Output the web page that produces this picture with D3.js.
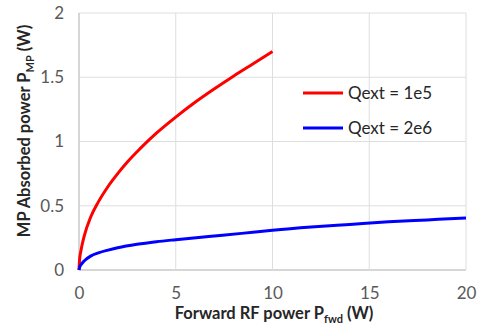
<!DOCTYPE html>
<html>
<head>
<meta charset="utf-8">
<script src="https://cdn.jsdelivr.net/npm/d3@7"></script>
<style>
  body { margin: 0; background: #fff; }
  text { font-family: Lato, "Open Sans", sans-serif; }
</style>
</head>
<body>
<div id="chart"></div>
<script>
// values
var redX = [0, 0.03, 0.1, 0.28, 0.6, 1, 1.5, 2, 2.5, 3, 3.5, 4, 5, 6, 7, 8, 9, 10];
var redY = [0, 0.08, 0.15, 0.27, 0.41, 0.53, 0.65, 0.75, 0.84, 0.92, 0.995, 1.065, 1.19, 1.305, 1.41, 1.51, 1.605, 1.70];

var blueX = [0, 0.03, 0.1, 0.28, 0.6, 1, 1.5, 2, 3, 4, 5, 6.7, 8.4, 10, 12, 14, 16, 18, 20];
var blueY = [0, 0.02, 0.04, 0.072, 0.108, 0.133, 0.155, 0.173, 0.20, 0.22, 0.236, 0.261, 0.285, 0.31, 0.335, 0.355, 0.375, 0.39, 0.405];

var xTicks = [0, 5, 10, 15, 20];
var yTicks = [0, 0.5, 1, 1.5, 2];
var seriesNames = ["Qext = 1e5", "Qext = 2e6"];
var seriesColors = ["#ff0000", "#0000ff"];

var svgWidth = 480;
var svgHeight = 330;
var margin = { top: 13, right: 14, bottom: 60, left: 79 };
var width = svgWidth - margin.left - margin.right;
var height = svgHeight - margin.top - margin.bottom;

var svg = d3.select("#chart")
  .append("svg")
  .attr("width", svgWidth)
  .attr("height", svgHeight);

var chartGroup = svg.append("g")
  .attr("transform", `translate(${margin.left}, ${margin.top})`);

var x = d3.scaleLinear().domain([0, 20]).range([0, width]);
var y = d3.scaleLinear().domain([0, 2]).range([height, 0]);

// gridlines
chartGroup.append("g")
  .selectAll("line")
  .data(yTicks)
  .enter()
  .append("line")
  .attr("x1", 0).attr("x2", width)
  .attr("y1", d => y(d)).attr("y2", d => y(d))
  .attr("stroke", d => d === 0 ? "#c8c8c8" : "#dedede")
  .attr("stroke-width", d => d === 0 ? 1.5 : 1);

chartGroup.append("g")
  .selectAll("line")
  .data(xTicks)
  .enter()
  .append("line")
  .attr("y1", 0).attr("y2", height)
  .attr("x1", d => x(d)).attr("x2", d => x(d))
  .attr("stroke", d => d === 0 ? "#c8c8c8" : "#dedede")
  .attr("stroke-width", d => d === 0 ? 1.5 : 1);

// axes (labels only)
var bottomAxis = d3.axisBottom(x).tickValues(xTicks).tickSize(0).tickPadding(17);
var leftAxis = d3.axisLeft(y).tickValues(yTicks).tickFormat(d3.format("")).tickSize(0).tickPadding(15);

var xAxis = chartGroup.append("g")
  .attr("transform", `translate(0, ${height})`)
  .call(bottomAxis);
var yAxis = chartGroup.append("g").call(leftAxis);

[xAxis, yAxis].forEach(function(a) {
  a.select(".domain").remove();
  a.selectAll("text")
    .attr("fill", "#595959")
    .attr("font-size", "17px")
    .style("font-family", "Lato, 'Open Sans', sans-serif");
});

// lines
var line = d3.line()
  .x(d => x(d[0]))
  .y(d => y(d[1]))
  .curve(d3.curveMonotoneX);

var series = [
  d3.zip(redX, redY),
  d3.zip(blueX, blueY)
];

series.forEach(function(s, i) {
  chartGroup.append("path")
    .datum(s)
    .attr("fill", "none")
    .attr("stroke", seriesColors[i])
    .attr("stroke-width", 3)
    .attr("stroke-linejoin", "round")
    .attr("d", line);
});

// legend
var legend = svg.append("g").attr("transform", "translate(303, 93)");
seriesNames.forEach(function(name, i) {
  var g = legend.append("g").attr("transform", `translate(0, ${i * 35})`);
  g.append("line")
    .attr("x1", 0).attr("x2", 40)
    .attr("stroke", seriesColors[i])
    .attr("stroke-width", 3);
  g.append("text")
    .attr("x", 45)
    .attr("y", 6)
    .attr("font-size", "17px")
    .attr("fill", "#262626")
    .text(name);
});

// axis titles
var xTitle = svg.append("text")
  .attr("x", 274)
  .attr("y", 319)
  .attr("text-anchor", "middle")
  .attr("font-size", "16.5px")
  .attr("font-weight", "bold")
  .attr("fill", "#262626");
xTitle.append("tspan").text("Forward RF power P");
xTitle.append("tspan").attr("dy", 4).attr("font-size", "11px").text("fwd");
xTitle.append("tspan").attr("dy", -4).text(" (W)");

var yTitle = svg.append("text")
  .attr("transform", "translate(30, 131) rotate(-90)")
  .attr("text-anchor", "middle")
  .attr("font-size", "16.5px")
  .attr("font-weight", "bold")
  .attr("fill", "#262626");
yTitle.append("tspan").text("MP Absorbed power P");
yTitle.append("tspan").attr("dy", 4).attr("font-size", "11px").text("MP");
yTitle.append("tspan").attr("dy", -4).text(" (W)");
</script>
</body>
</html>
